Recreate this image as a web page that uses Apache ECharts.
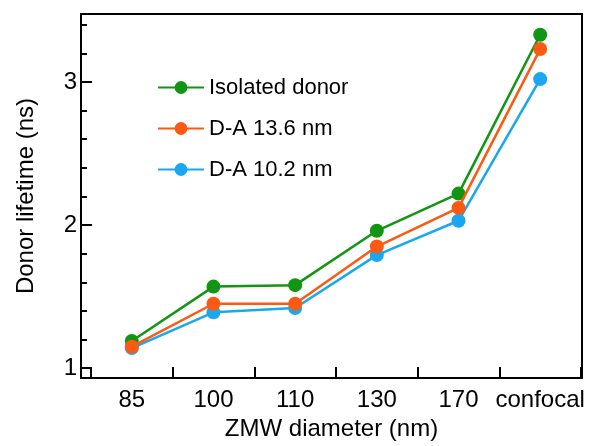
<!DOCTYPE html>
<html>
<head>
<meta charset="utf-8">
<script src="https://cdn.jsdelivr.net/npm/echarts@6/dist/echarts.min.js"></script>
<style>
html,body{margin:0;padding:0;background:#fff;}
#chart{width:590px;height:446px;}
</style>
</head>
<body>
<div id="chart"></div>
<script>
const categories = ["85", "100", "110", "130", "170", "confocal"];
const isolatedDonor = [1.19, 1.57, 1.58, 1.96, 2.22, 3.33];
const da136 = [1.15, 1.45, 1.45, 1.85, 2.12, 3.23];
const da102 = [1.14, 1.39, 1.42, 1.79, 2.03, 3.02];
const yMajorTicks = [1, 2, 3];
const yMinorTicks = [1.2, 1.4, 1.6, 1.8, 2.2, 2.4, 2.6, 2.8, 3.2, 3.4];
const xTickPositions = [-0.5, 0.5, 1.5, 2.5, 3.5, 4.5, 5.5];

const FONT = "Liberation Sans";
const toXY = arr => arr.map((v, i) => [i, v]);
const yMin = 0.9305, yMax = 3.475;

const chart = echarts.init(document.getElementById('chart'), null, {renderer: 'canvas'});
const mk = (name, data, color, z) => ({
  name, type: 'line', data: toXY(data), z,
  symbol: 'circle', symbolSize: 14,
  lineStyle: {color, width: 2.5}, itemStyle: {color},
  emphasis: {disabled: true}, animation: false
});
chart.setOption({
  animation: false,
  backgroundColor: '#fff',
  textStyle: {fontFamily: FONT},
  grid: {left: 81, right: 8, top: 14, bottom: 66, show: true, borderColor: '#000', borderWidth: 2, containLabel: false},
  legend: {
    left: 152, top: 69, orient: 'vertical',
    itemWidth: 46, itemHeight: 16, itemGap: 14,
    textStyle: {fontFamily: FONT, fontSize: 22, color: '#000', lineHeight: 27},
    data: ['Isolated donor', 'D-A 13.6 nm', 'D-A 10.2 nm']
  },
  xAxis: {
    type: 'value', min: -0.622, max: 5.512,
    name: 'ZMW diameter (nm)', nameLocation: 'middle', nameGap: 37,
    nameTextStyle: {fontFamily: FONT, fontSize: 24, color: '#000'},
    axisLine: {show: true, onZero: false, lineStyle: {color: '#000', width: 2}},
    axisTick: {show: true, inside: true, length: 11, lineStyle: {color: '#000', width: 2}, customValues: xTickPositions},
    axisLabel: {show: true, customValues: categories.map((c, i) => i), formatter: v => categories[Math.round(v)],
      fontFamily: FONT, fontSize: 24, color: '#000', margin: 10},
    splitLine: {show: false}
  },
  yAxis: [{
    type: 'value', min: yMin, max: yMax,
    name: 'Donor lifetime (ns)', nameLocation: 'middle', nameGap: 43,
    nameTextStyle: {fontFamily: FONT, fontSize: 24, color: '#000'},
    axisLine: {show: true, onZero: false, lineStyle: {color: '#000', width: 2}},
    axisTick: {show: true, inside: true, length: 11, lineStyle: {color: '#000', width: 2}, customValues: yMajorTicks},
    axisLabel: {show: true, customValues: yMajorTicks, fontFamily: FONT, fontSize: 24, color: '#000', margin: 4},
    splitLine: {show: false}
  }, {
    type: 'value', min: yMin, max: yMax, position: 'left',
    axisLine: {show: false, onZero: false},
    axisTick: {show: true, inside: true, length: 6, lineStyle: {color: '#000', width: 2}, customValues: yMinorTicks},
    axisLabel: {show: false},
    splitLine: {show: false}
  }],
  series: [
    mk('Isolated donor', isolatedDonor, '#129512', 3),
    mk('D-A 13.6 nm', da136, '#fb5a13', 4),
    mk('D-A 10.2 nm', da102, '#1aa7ef', 2)
  ]
});
</script>
</body>
</html>
